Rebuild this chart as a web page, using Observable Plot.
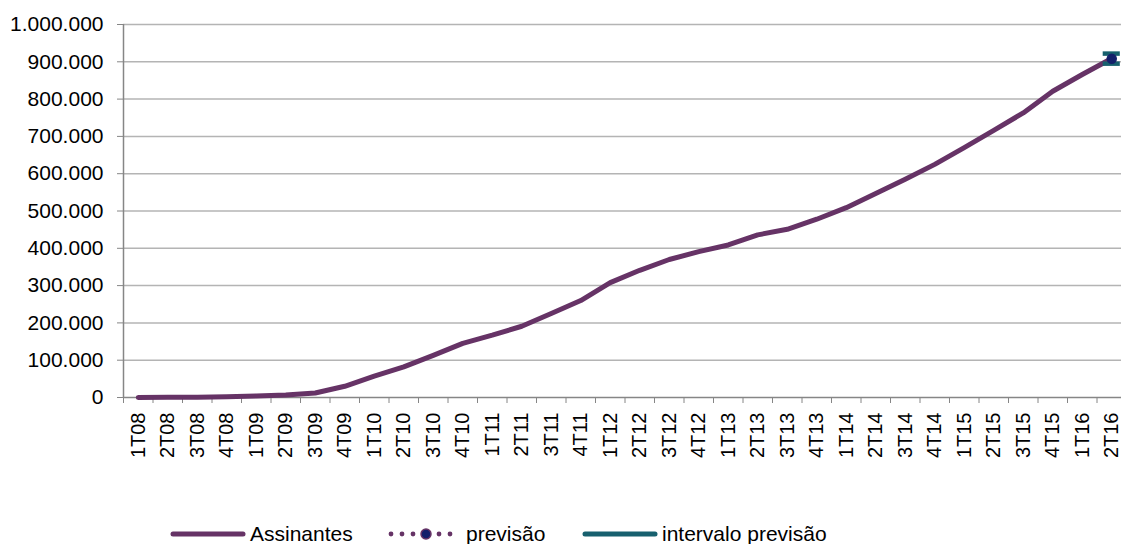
<!DOCTYPE html>
<html>
<head>
<meta charset="utf-8">
<script src="https://cdn.jsdelivr.net/npm/d3@7"></script>
<script src="https://cdn.jsdelivr.net/npm/@observablehq/plot@0.6"></script>
<style>
  html, body { margin: 0; padding: 0; background: #fff; overflow: hidden; }
  #chart svg { display: block; }
  #legend { position: relative; width: 1121px; height: 39px; font-family: "Liberation Sans", Arial, sans-serif; font-size: 21px; color: #000; }
  #legend .item { position: absolute; top: 9px; height: 39px; display: flex; align-items: center; }
  #legend svg { display: block; }
</style>
</head>
<body>
<div id="chart"></div>
<div id="legend"></div>
<script>
const categories = ["1T08","2T08","3T08","4T08","1T09","2T09","3T09","4T09","1T10","2T10","3T10","4T10",
  "1T11","2T11","3T11","4T11","1T12","2T12","3T12","4T12","1T13","2T13","3T13","4T13",
  "1T14","2T14","3T14","4T14","1T15","2T15","3T15","4T15","1T16","2T16"];
const assinantes = [0, 500, 1000, 2000, 4000, 7000, 12000, 30000, 57000, 82000, 113000, 145000,
  167000, 191000, 225000, 260000, 308000, 341000, 370000, 391000, 409000, 436000, 451000, 478000,
  509000, 547000, 585000, 625000, 670000, 716000, 763000, 821000, 866000, 909000];
const previsaoCat = ["2T16"];
const previsaoVal = [908000];
const intervaloLow = [895000];
const intervaloHigh = [922000];
const yTicks = [0, 100000, 200000, 300000, 400000, 500000, 600000, 700000, 800000, 900000, 1000000];

const PURPLE = "#663366", TEAL = "#17606e", NAVY = "#14206b", AXIS = "#868686", GRID = "#b4b4b4";

const idx = c => categories.indexOf(c) + 0.5;
const lineData = categories.map((c, i) => ({x: i + 0.5, y: assinantes[i]}));
const prev = previsaoCat.map((c, i) => ({x: idx(c), y: previsaoVal[i], lo: intervaloLow[i], hi: intervaloHigh[i]}));
const capHalf = 0.29;
const fmt = d => d3.format(",")(d).replace(/,/g, ".");

const chart = Plot.plot({
  width: 1121,
  height: 505,
  marginLeft: 123,
  marginRight: -5,
  marginTop: 24,
  marginBottom: 108,
  style: {fontFamily: "'Liberation Sans', Arial, sans-serif", fontSize: "21px", color: "#000", background: "#fff"},
  x: {type: "linear", domain: [0, categories.length], label: null},
  y: {domain: [0, 1000000], label: null},
  marks: [
    Plot.ruleY(yTicks.slice(1), {stroke: GRID, strokeWidth: 1.5}),
    Plot.ruleY([0], {stroke: AXIS, strokeWidth: 1.5}),
    Plot.ruleX([0], {stroke: AXIS, strokeWidth: 1.5}),
    Plot.axisY({ticks: yTicks, tickSize: 6, tickPadding: 14, tickFormat: fmt, stroke: AXIS, fill: "#000", fontSize: 21, label: null}),
    Plot.axisX({ticks: d3.range(0, categories.length + 1), tickSize: 6, tickFormat: () => "", stroke: AXIS, label: null}),
    Plot.axisX({ticks: categories.map((c, i) => i + 0.5), tickSize: 0, tickPadding: 15, tickRotate: -90,
      tickFormat: d => categories[Math.floor(d)], fill: "#000", fontSize: 20, label: null}),
    Plot.line(lineData, {x: "x", y: "y", stroke: PURPLE, strokeWidth: 5, strokeLinejoin: "round", strokeLinecap: "round"}),
    Plot.ruleX(prev, {x: "x", y1: "lo", y2: "hi", stroke: TEAL, strokeWidth: 5}),
    Plot.ruleY(prev, {y: "hi", x1: d => d.x - capHalf, x2: d => d.x + capHalf, stroke: TEAL, strokeWidth: 4.5}),
    Plot.ruleY(prev, {y: "lo", x1: d => d.x - capHalf, x2: d => d.x + capHalf, stroke: TEAL, strokeWidth: 4.5}),
    Plot.dot(prev, {x: "x", y: "y", r: 4.5, fill: NAVY, stroke: NAVY})
  ]
});
document.getElementById("chart").appendChild(chart);

// Legend
const legend = document.getElementById("legend");
function addItem(left, swatchSvg, label) {
  const d = document.createElement("div");
  d.className = "item";
  d.style.left = left + "px";
  d.innerHTML = swatchSvg + `<span style="margin-left:4px">${label}</span>`;
  legend.appendChild(d);
}
addItem(170, `<svg width="76" height="12"><line x1="3" y1="6" x2="73" y2="6" stroke="${PURPLE}" stroke-width="5" stroke-linecap="round"/></svg>`, "Assinantes");
addItem(386, `<svg width="76" height="14">
  ${[5,16,27,53,64].map(x => `<circle cx="${x}" cy="7" r="2.4" fill="${PURPLE}"/>`).join("")}
  <circle cx="40" cy="7" r="5" fill="${NAVY}" stroke="${PURPLE}" stroke-width="1.5"/></svg>`, "previsão");
addItem(582, `<svg width="76" height="12"><line x1="3" y1="6" x2="73" y2="6" stroke="${TEAL}" stroke-width="5" stroke-linecap="round"/></svg>`, "intervalo previsão");
</script>
</body>
</html>
